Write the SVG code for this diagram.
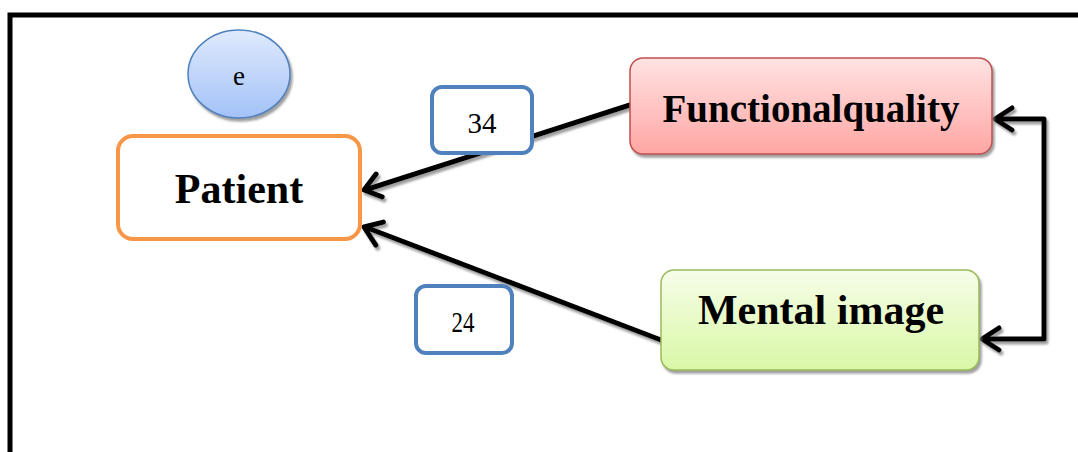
<svg xmlns="http://www.w3.org/2000/svg" width="1078" height="452" viewBox="0 0 1078 452">
<style>
.conn{fill:none;stroke:#000;stroke-width:5;stroke-linecap:round;stroke-linejoin:round;filter:url(#sh)}
.lbl{fill:#fff;stroke:#4f81bd;stroke-width:4}
.t{font-family:"Liberation Serif",serif;fill:#000;text-anchor:middle}
.b{font-weight:bold}
</style>
<defs>
<linearGradient id="gb" x1="0" y1="0" x2="0" y2="1"><stop offset="0" stop-color="#dfeafd"/><stop offset="1" stop-color="#a3c2f8"/></linearGradient>
<linearGradient id="gr" x1="0" y1="0" x2="0" y2="1"><stop offset="0" stop-color="#ffe3e3"/><stop offset="1" stop-color="#ffa6a4"/></linearGradient>
<linearGradient id="gg" x1="0" y1="0" x2="0" y2="1"><stop offset="0" stop-color="#f6fde9"/><stop offset="1" stop-color="#d9f8a6"/></linearGradient>
<filter id="sh" x="-20%" y="-20%" width="140%" height="140%"><feDropShadow dx="2" dy="3" stdDeviation="1" flood-color="#808080" flood-opacity="0.75"/></filter>
</defs>
<rect x="10" y="15" width="1085" height="450" fill="#fff" stroke="#000" stroke-width="5"/>
<g id="connectors">
<path class="conn" d="M630,105 L365,190 M382.2,196.8 L364,190 L376.1,174.1"/>
<path class="conn" d="M661,340 L365,227 M383.4,222.1 L364,227 L375.8,245.1"/>
<path class="conn" d="M996,119 L1044,119 L1044,339 L983,339 M1012,108 L995,119 L1012,130 M999,328 L982,339 L999,350"/>
</g>
<g id="node-e">
<ellipse cx="239" cy="74" rx="51" ry="44" fill="url(#gb)" stroke="#4f81bd" stroke-width="1.5" filter="url(#sh)"/>
<text class="t" x="239" y="85" font-size="27">e</text>
</g>
<g id="node-patient">
<rect x="118" y="136" width="242" height="103" rx="15" fill="#fff" stroke="#f79646" stroke-width="4"/>
<text class="t b" x="239" y="203" font-size="42">Patient</text>
</g>
<g id="node-functional">
<rect x="630" y="58" width="362" height="96" rx="13" fill="url(#gr)" stroke="#c0504d" stroke-width="1.5" filter="url(#sh)"/>
<text class="t b" x="811" y="122" font-size="39">Functionalquality</text>
</g>
<g id="node-mental">
<rect x="661" y="270" width="318" height="100" rx="13" fill="url(#gg)" stroke="#9bbb59" stroke-width="1.5" filter="url(#sh)"/>
<text class="t b" x="821" y="324" font-size="42">Mental image</text>
</g>
<g id="label-34">
<rect class="lbl" x="432" y="87" width="100" height="66" rx="10"/>
<text class="t" x="482" y="133" font-size="29">34</text>
</g>
<g id="label-24">
<rect class="lbl" x="416" y="286" width="96" height="67" rx="10"/>
<text class="t" x="463" y="332" font-size="29" textLength="23" lengthAdjust="spacingAndGlyphs">24</text>
</g>
</svg>
